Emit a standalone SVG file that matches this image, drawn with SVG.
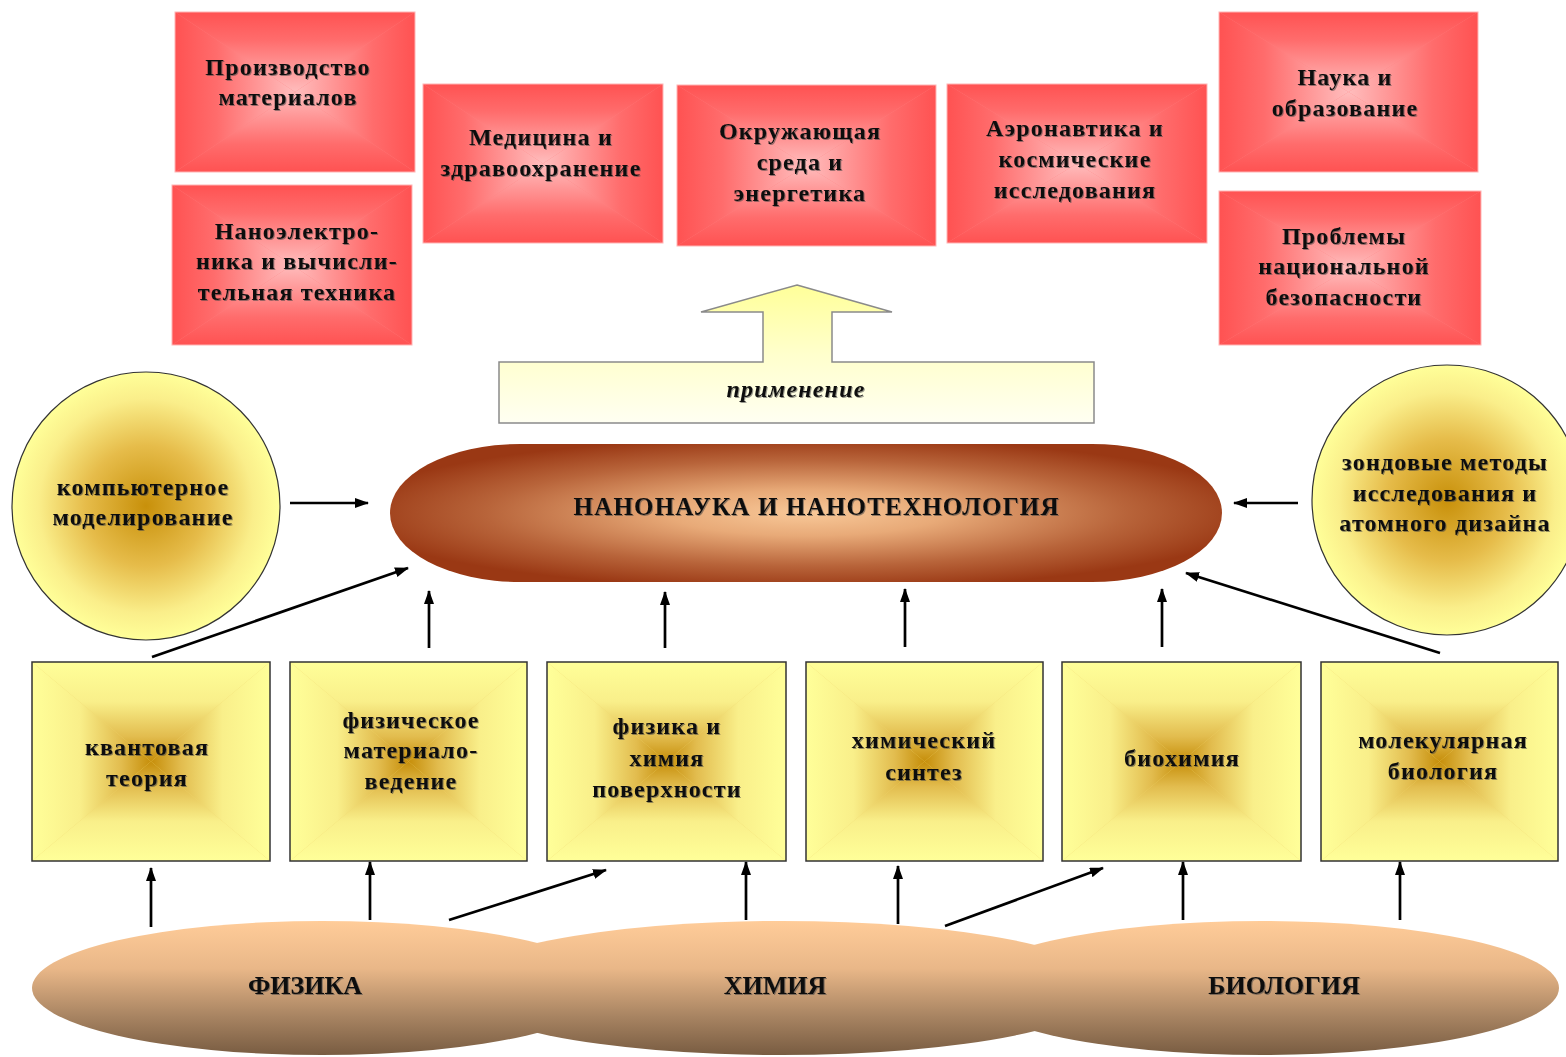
<svg xmlns="http://www.w3.org/2000/svg" width="1566" height="1057" viewBox="0 0 1566 1057">
<defs>
<style>
.t{font-family:"Liberation Serif","Times New Roman",serif;font-weight:bold;font-size:24px;letter-spacing:1.2px;fill:#111;text-anchor:middle;filter:url(#sh)}
.big{font-size:25px;letter-spacing:0}
.cap{font-size:26px;letter-spacing:0}
.it{font-style:italic}
.red{fill:url(#pRed);stroke:#ffb4b4;stroke-width:1}
.yel{fill:url(#pYel);stroke:#333;stroke-width:1.5}
.circ{fill:url(#gCirc);stroke:#333;stroke-width:1.2}
.arr{stroke:#000;stroke-width:2.7;fill:none;marker-end:url(#ah)}
</style>
<filter id="sh" x="-5%" y="-20%" width="110%" height="140%">
<feDropShadow dx="1" dy="1" stdDeviation="0.7" flood-color="#444" flood-opacity="0.55"/>
</filter>
<marker id="ah" viewBox="0 0 14 10" refX="13" refY="5" markerWidth="14" markerHeight="10" markerUnits="userSpaceOnUse" orient="auto">
<path d="M0,0 L14,5 L0,10 z" fill="#000"/>
</marker>
<linearGradient id="rT" x1="0" y1="0" x2="0" y2="1"><stop offset="0" stop-color="#ff5252"/><stop offset="0.35" stop-color="#ff6c6c"/><stop offset="1" stop-color="#ffbdbd"/></linearGradient>
<linearGradient id="rB" x1="0" y1="1" x2="0" y2="0"><stop offset="0" stop-color="#ff5252"/><stop offset="0.35" stop-color="#ff6c6c"/><stop offset="1" stop-color="#ffbdbd"/></linearGradient>
<linearGradient id="rL" x1="0" y1="0" x2="1" y2="0"><stop offset="0" stop-color="#ff5252"/><stop offset="0.35" stop-color="#ff6c6c"/><stop offset="1" stop-color="#ffbdbd"/></linearGradient>
<linearGradient id="rR" x1="1" y1="0" x2="0" y2="0"><stop offset="0" stop-color="#ff5252"/><stop offset="0.35" stop-color="#ff6c6c"/><stop offset="1" stop-color="#ffbdbd"/></linearGradient>
<pattern id="pRed" patternUnits="objectBoundingBox" patternContentUnits="objectBoundingBox" width="1" height="1">
<rect width="1" height="1" fill="#ff8080"/>
<polygon points="0,0 1,0 0.5,0.5" fill="url(#rT)"/>
<polygon points="0,1 1,1 0.5,0.5" fill="url(#rB)"/>
<polygon points="0,0 0,1 0.5,0.5" fill="url(#rL)"/>
<polygon points="1,0 1,1 0.5,0.5" fill="url(#rR)"/>
</pattern>
<linearGradient id="yT" x1="0" y1="0" x2="0" y2="1"><stop offset="0" stop-color="#ffff99"/><stop offset="0.4" stop-color="#f9ef8a"/><stop offset="0.75" stop-color="#e2bc4e"/><stop offset="1" stop-color="#c68e0a"/></linearGradient>
<linearGradient id="yB" x1="0" y1="1" x2="0" y2="0"><stop offset="0" stop-color="#ffff99"/><stop offset="0.4" stop-color="#f9ef8a"/><stop offset="0.75" stop-color="#e2bc4e"/><stop offset="1" stop-color="#c68e0a"/></linearGradient>
<linearGradient id="yL" x1="0" y1="0" x2="1" y2="0"><stop offset="0" stop-color="#ffff99"/><stop offset="0.4" stop-color="#f9ef8a"/><stop offset="0.75" stop-color="#e2bc4e"/><stop offset="1" stop-color="#c68e0a"/></linearGradient>
<linearGradient id="yR" x1="1" y1="0" x2="0" y2="0"><stop offset="0" stop-color="#ffff99"/><stop offset="0.4" stop-color="#f9ef8a"/><stop offset="0.75" stop-color="#e2bc4e"/><stop offset="1" stop-color="#c68e0a"/></linearGradient>
<pattern id="pYel" patternUnits="objectBoundingBox" patternContentUnits="objectBoundingBox" width="1" height="1">
<rect width="1" height="1" fill="#f0d870"/>
<polygon points="0,0 1,0 0.5,0.5" fill="url(#yT)"/>
<polygon points="0,1 1,1 0.5,0.5" fill="url(#yB)"/>
<polygon points="0,0 0,1 0.5,0.5" fill="url(#yL)"/>
<polygon points="1,0 1,1 0.5,0.5" fill="url(#yR)"/>
</pattern>
<radialGradient id="gCirc" cx="0.5" cy="0.5" r="0.5">
<stop offset="0" stop-color="#c8900a"/><stop offset="0.45" stop-color="#e6bc4a"/><stop offset="0.8" stop-color="#faee8a"/><stop offset="1" stop-color="#ffff99"/>
</radialGradient>
<radialGradient id="gNano" cx="0.5" cy="0.5" r="0.55">
<stop offset="0" stop-color="#f8c898"/><stop offset="0.3" stop-color="#e8aa78"/><stop offset="0.7" stop-color="#b8643a"/><stop offset="1" stop-color="#9a3814"/>
</radialGradient>
<linearGradient id="gApp" gradientUnits="userSpaceOnUse" x1="0" y1="285" x2="0" y2="423">
<stop offset="0" stop-color="#ffff99"/><stop offset="0.5" stop-color="#ffffcc"/><stop offset="1" stop-color="#fffff2"/>
</linearGradient>
<linearGradient id="gBase" gradientUnits="userSpaceOnUse" x1="0" y1="921" x2="0" y2="1057">
<stop offset="0" stop-color="#ffcc99"/><stop offset="0.35" stop-color="#e9b788"/><stop offset="0.7" stop-color="#a88462"/><stop offset="1" stop-color="#765a40"/>
</linearGradient>
</defs>
<rect width="1566" height="1057" fill="#fff"/>

<g id="app-materials"><rect class="red" x="175" y="12" width="240" height="160"/>
<text class="t" x="288" y="75">Производство</text><text class="t" x="288" y="105">материалов</text></g>
<g id="app-nanoelectronics"><rect class="red" x="172" y="185" width="240" height="160"/>
<text class="t" x="297" y="239">Наноэлектро-</text><text class="t" x="297" y="269">ника и вычисли-</text><text class="t" x="297" y="300">тельная техника</text></g>
<g id="app-medicine"><rect class="red" x="423" y="84" width="240" height="159"/>
<text class="t" x="541" y="145">Медицина и</text><text class="t" x="541" y="176">здравоохранение</text></g>
<g id="app-environment"><rect class="red" x="677" y="85" width="259" height="161"/>
<text class="t" x="800" y="139">Окружающая</text><text class="t" x="800" y="170">среда и</text><text class="t" x="800" y="201">энергетика</text></g>
<g id="app-aero"><rect class="red" x="947" y="84" width="260" height="159"/>
<text class="t" x="1075" y="136">Аэронавтика и</text><text class="t" x="1075" y="167">космические</text><text class="t" x="1075" y="198">исследования</text></g>
<g id="app-science"><rect class="red" x="1219" y="12" width="259" height="160"/>
<text class="t" x="1345" y="85">Наука и</text><text class="t" x="1345" y="116">образование</text></g>
<g id="app-security"><rect class="red" x="1219" y="191" width="262" height="154"/>
<text class="t" x="1344" y="244">Проблемы</text><text class="t" x="1344" y="274">национальной</text><text class="t" x="1344" y="305">безопасности</text></g>

<g id="application">
<path d="M797,285 L892,312 L832,312 L832,362 L1094,362 L1094,423 L499,423 L499,362 L763,362 L763,312 L701,312 Z" fill="url(#gApp)" stroke="#8a8a8a" stroke-width="1.5"/>
<text class="t it" x="796" y="397">применение</text>
</g>

<g id="nano">
<rect x="390" y="444" width="832" height="138" rx="130" ry="69" fill="url(#gNano)"/>
<text class="t big" x="816" y="515" textLength="485" lengthAdjust="spacing">НАНОНАУКА И НАНОТЕХНОЛОГИЯ</text>
</g>

<g id="computer-modeling"><circle class="circ" cx="146" cy="506" r="134"/>
<text class="t" x="143" y="495">компьютерное</text><text class="t" x="143" y="525">моделирование</text></g>
<g id="probe-methods"><circle class="circ" cx="1447" cy="500" r="135"/>
<text class="t" x="1445" y="470">зондовые методы</text><text class="t" x="1445" y="501">исследования и</text><text class="t" x="1445" y="531">атомного дизайна</text></g>

<g id="quantum"><rect class="yel" x="32" y="662" width="238" height="199"/>
<text class="t" x="147" y="755">квантовая</text><text class="t" x="147" y="786">теория</text></g>
<g id="phys-materials"><rect class="yel" x="290" y="662" width="237" height="199"/>
<text class="t" x="411" y="728">физическое</text><text class="t" x="411" y="758">материало-</text><text class="t" x="411" y="789">ведение</text></g>
<g id="surface"><rect class="yel" x="547" y="662" width="239" height="199"/>
<text class="t" x="667" y="734">физика и</text><text class="t" x="667" y="766">химия</text><text class="t" x="667" y="797">поверхности</text></g>
<g id="synthesis"><rect class="yel" x="806" y="662" width="237" height="199"/>
<text class="t" x="924" y="748">химический</text><text class="t" x="924" y="780">синтез</text></g>
<g id="biochem"><rect class="yel" x="1062" y="662" width="239" height="199"/>
<text class="t" x="1182" y="766">биохимия</text></g>
<g id="molbio"><rect class="yel" x="1321" y="662" width="237" height="199"/>
<text class="t" x="1443" y="748">молекулярная</text><text class="t" x="1443" y="779">биология</text></g>

<g id="base">
<g fill="url(#gBase)">
<ellipse cx="322" cy="988" rx="290" ry="67"/>
<ellipse cx="782" cy="988" rx="330" ry="67"/>
<ellipse cx="1262" cy="988" rx="297" ry="67"/>
</g>
<text class="t cap" x="305" y="994">ФИЗИКА</text>
<text class="t cap" x="775" y="994">ХИМИЯ</text>
<text class="t cap" x="1284" y="994">БИОЛОГИЯ</text>
</g>

<g id="connectors">
<line class="arr" x1="290" y1="503" x2="368" y2="503"/>
<line class="arr" x1="1298" y1="503" x2="1234" y2="503"/>
<line class="arr" x1="152" y1="657" x2="408" y2="568"/>
<line class="arr" x1="429" y1="648" x2="429" y2="591"/>
<line class="arr" x1="665" y1="648" x2="665" y2="592"/>
<line class="arr" x1="905" y1="647" x2="905" y2="589"/>
<line class="arr" x1="1162" y1="647" x2="1162" y2="589"/>
<line class="arr" x1="1440" y1="653" x2="1186" y2="573"/>
<line class="arr" x1="151" y1="927" x2="151" y2="868"/>
<line class="arr" x1="370" y1="920" x2="370" y2="862"/>
<line class="arr" x1="449" y1="920" x2="606" y2="870"/>
<line class="arr" x1="746" y1="920" x2="746" y2="862"/>
<line class="arr" x1="898" y1="924" x2="898" y2="866"/>
<line class="arr" x1="945" y1="926" x2="1103" y2="868"/>
<line class="arr" x1="1183" y1="920" x2="1183" y2="862"/>
<line class="arr" x1="1400" y1="920" x2="1400" y2="862"/>
</g>
</svg>
